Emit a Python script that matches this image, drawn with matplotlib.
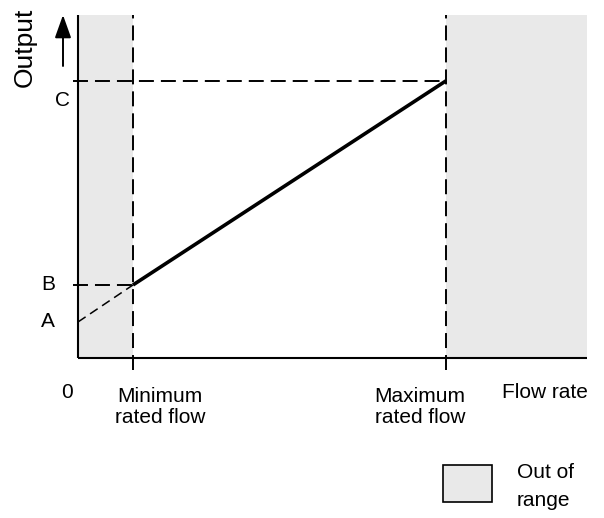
import matplotlib
matplotlib.use("Agg")
import matplotlib.pyplot as plt
from matplotlib.patches import Rectangle, FancyArrowPatch

plt.rcParams['font.family'] = ['Liberation Sans', 'DejaVu Sans']

# ---- data (conceptual units) ----
flow_min = 1.0          # minimum rated flow
flow_max = 6.69         # maximum rated flow
flow_axis_end = 9.25    # end of flow axis
output_top = 10.0       # top of output axis
out_A = 1.05
out_B = 2.13
out_C = 8.08
y_labels = ["A", "B", "C"]
x_labels = ["0", "Minimum\nrated flow", "Maximum\nrated flow", "Flow rate"]

# pixel scale helpers (figure 604x518, origin at pixel (78,358))
px_x = 55.0
px_y = 34.3

fig = plt.figure(figsize=(6.04, 5.18), dpi=100)
ax = fig.add_axes([0, 0, 1, 1])
ax.set_xlim(-78 / px_x, (604 - 78) / px_x)
ax.set_ylim(-(518 - 358) / px_y, 358 / px_y)
ax.axis('off')

grey = '#e9e9e9'
# shaded out-of-range regions
ax.add_patch(Rectangle((0, 0), flow_min, output_top, facecolor=grey, edgecolor='none', zorder=0))
ax.add_patch(Rectangle((flow_max, 0), flow_axis_end - flow_max, output_top, facecolor=grey, edgecolor='none', zorder=0))

# axes
ax.plot([0, 0], [0, output_top], color='black', lw=1.5, zorder=3, solid_capstyle='butt')
ax.plot([0, flow_axis_end], [0, 0], color='black', lw=1.5, zorder=3, solid_capstyle='butt')

dash = dict(color='black', lw=1.4, dashes=(7.7, 3.6), zorder=2)
# vertical dashed lines at min/max flow
ext = -12 / px_y
ax.plot([flow_min, flow_min], [ext, output_top], **dash)
ax.plot([flow_max, flow_max], [ext, output_top], **dash)
# horizontal dashed lines to B and C
left = -5 / px_x
ax.plot([left, flow_max], [out_C, out_C], **dash)
ax.plot([left, flow_min], [out_B, out_B], **dash)
# extrapolated dashed line A->B
ax.plot([0, flow_min], [out_A, out_B], color='black', lw=1.1, dashes=(6, 3.5), zorder=2)
# solid operating line
ax.plot([flow_min, flow_max], [out_B, out_C], color='black', lw=2.6, zorder=4, solid_capstyle='butt')

# output arrow
ax.add_patch(FancyArrowPatch((-15 / px_x, (358 - 66) / px_y), (-15 / px_x, output_top),
                             arrowstyle='-|>,head_length=0.7,head_width=0.25',
                             mutation_scale=20, color='black', lw=1.4, shrinkA=0, shrinkB=0))
ax.text(-53 / px_x, (358 - 47) / px_y, "Output", rotation=90, ha='center', va='center', fontsize=19)

fs = 15
ax.text(-16 / px_x, (358 - 100) / px_y, y_labels[2], ha='center', va='center', fontsize=fs)
ax.text(-30 / px_x, out_B, y_labels[1], ha='center', va='center', fontsize=fs)
ax.text(-30 / px_x, out_A, y_labels[0], ha='center', va='center', fontsize=fs)

ax.text(-11 / px_x, -35 / px_y, x_labels[0], ha='center', va='center', fontsize=fs)
ax.text(82 / px_x, -49 / px_y, x_labels[1], ha='center', va='center', fontsize=fs, linespacing=1.15)
ax.text(342 / px_x, -49 / px_y, x_labels[2], ha='center', va='center', fontsize=fs, linespacing=1.15)
ax.text(467 / px_x, -35 / px_y, x_labels[3], ha='center', va='center', fontsize=fs)

# legend
ax.add_patch(Rectangle((365 / px_x, -144 / px_y), 49 / px_x, 37 / px_y,
                       facecolor=grey, edgecolor='black', lw=1.2, zorder=3))
ax.text(439 / px_x, -114 / px_y, "Out of", ha='left', va='center', fontsize=fs)
ax.text(439 / px_x, -143 / px_y, "range", ha='left', va='center', fontsize=fs)

fig.savefig("out.png", dpi=100)
